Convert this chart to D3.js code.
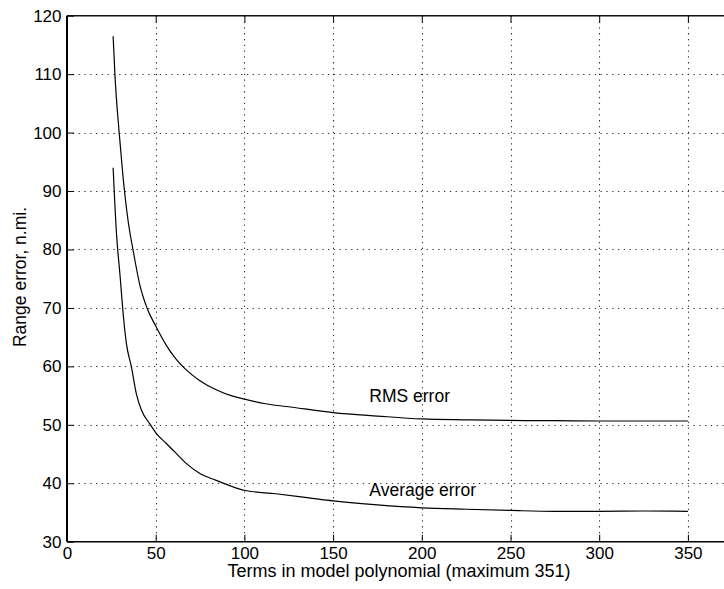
<!DOCTYPE html>
<html>
<head>
<meta charset="utf-8">
<script src="https://cdn.jsdelivr.net/npm/d3@7/dist/d3.min.js"></script>
<style>
  html, body { margin: 0; padding: 0; background: #fff; }
  svg { display: block; }
  text { font-family: "Liberation Sans", Arial, Helvetica, sans-serif; fill: #000; }
</style>
</head>
<body>
<div id="chart"></div>
<script>
// ---- data ----
const xTicks = [0, 50, 100, 150, 200, 250, 300, 350];
const yTicks = [30, 40, 50, 60, 70, 80, 90, 100, 110, 120];

const rmsX = [26, 27, 29.4, 31.6, 34.4, 37.6, 41, 45.1, 50, 56, 61.6, 67.2, 74.7, 84.1, 93.4, 100, 112, 127, 150, 175, 200, 225, 250, 275, 300, 350];
const rmsY = [116.5, 110, 100, 92.4, 85, 79.3, 74.0, 70.0, 66.9, 63.6, 61.2, 59.4, 57.6, 56, 54.9, 54.4, 53.6, 53, 52.1, 51.5, 51.0, 50.85, 50.75, 50.7, 50.65, 50.65];

const avgX = [26, 27.9, 29.8, 32, 33.5, 36.3, 39.1, 42, 46.6, 50.4, 56, 61.6, 67.2, 74.7, 84.1, 93.4, 100, 117.8, 136.5, 150, 175, 200, 225, 250, 275, 300, 325, 350];
const avgY = [94, 82.7, 75.9, 67.9, 63.9, 59.9, 55.3, 52.5, 50.2, 48.5, 46.8, 45.1, 43.4, 41.7, 40.5, 39.4, 38.8, 38.2, 37.5, 37.0, 36.3, 35.8, 35.55, 35.35, 35.2, 35.2, 35.25, 35.2];

const seriesLabels = ["RMS error", "Average error"];
const xTitle = "Terms in model polynomial (maximum 351)";
const yTitle = "Range error, n.mi.";

// ---- layout ----
const W = 724, H = 589;
const x = d3.scaleLinear().domain([0, 400]).range([67, 67 + 400 * 1.774]);
const y = d3.scaleLinear().domain([30, 120]).range([541.7, 15.7]);

const svg = d3.select("#chart").append("svg").attr("width", W).attr("height", H);

// grid
const grid = svg.append("g").attr("stroke", "#333").attr("stroke-width", 1.1).attr("stroke-dasharray", "1.3,4.5");
grid.selectAll("line.v").data(xTicks.filter(d => d > 0)).enter().append("line")
  .attr("x1", d => Math.round(x(d)) + 0.5).attr("x2", d => Math.round(x(d)) + 0.5).attr("y1", y(120)).attr("y2", y(30));
grid.selectAll("line.h").data(yTicks.filter(d => d > 30 && d < 120)).enter().append("line")
  .attr("y1", d => Math.round(y(d)) + 0.5).attr("y2", d => Math.round(y(d)) + 0.5).attr("x1", x(0)).attr("x2", W);

// axes
const fs = 17;
const xAxis = d3.axisBottom(x).tickValues(xTicks).tickSize(-7).tickPadding(5).tickFormat(d3.format("d"));
const gx = svg.append("g").attr("transform", `translate(0,${y(30)})`).call(xAxis);
const yAxis = d3.axisLeft(y).tickValues(yTicks).tickSize(-7).tickPadding(5).tickFormat(d3.format("d"));
const gy = svg.append("g").attr("transform", `translate(${x(0)},0)`).call(yAxis);
[gx, gy].forEach(g => {
  g.select(".domain").remove();
  g.selectAll(".tick line").attr("stroke", "#000").attr("stroke-width", 1);
  g.selectAll(".tick text").style("font-size", fs + "px").attr("font-family", "Liberation Sans, Arial, sans-serif");
});
gy.selectAll(".tick text").attr("x", -5.5);
// top ticks
const gt = svg.append("g").attr("transform", `translate(0,${y(120)})`)
  .call(d3.axisTop(x).tickValues(xTicks).tickSize(-7).tickFormat(""));
gt.select(".domain").remove();
gt.selectAll(".tick line").attr("stroke", "#000");

// frame
svg.append("line").attr("x1", x(0)).attr("x2", W).attr("y1", y(30)).attr("y2", y(30)).attr("stroke", "#000").attr("stroke-width", 1.6);
svg.append("line").attr("x1", x(0)).attr("x2", W).attr("y1", y(120)).attr("y2", y(120)).attr("stroke", "#111").attr("stroke-width", 1.6);
svg.append("line").attr("x1", x(0)).attr("x2", x(0)).attr("y1", y(120)).attr("y2", y(30)).attr("stroke", "#000").attr("stroke-width", 2);

// curves
const line = d3.line().x(d => x(d[0])).y(d => y(d[1])).curve(d3.curveMonotoneX);
const rms = rmsX.map((v, i) => [v, rmsY[i]]);
const avg = avgX.map((v, i) => [v, avgY[i]]);
[rms, avg].forEach(s => {
  svg.append("path").datum(s).attr("d", line).attr("fill", "none").attr("stroke", "#000").attr("stroke-width", 1.2);
});

// curve labels
seriesLabels.forEach((t, i) => {
  svg.append("text").attr("x", 369.3).attr("y", [401.7, 495.5][i])
    .style("font-size", "17.5px").text(t);
});

// titles
svg.append("text").attr("x", 399).attr("y", 577).attr("text-anchor", "middle").style("font-size", "18px").text(xTitle);
svg.append("text").attr("transform", `translate(26,${277}) rotate(-90)`).attr("text-anchor", "middle").style("font-size", "17.5px").text(yTitle);
</script>
</body>
</html>
